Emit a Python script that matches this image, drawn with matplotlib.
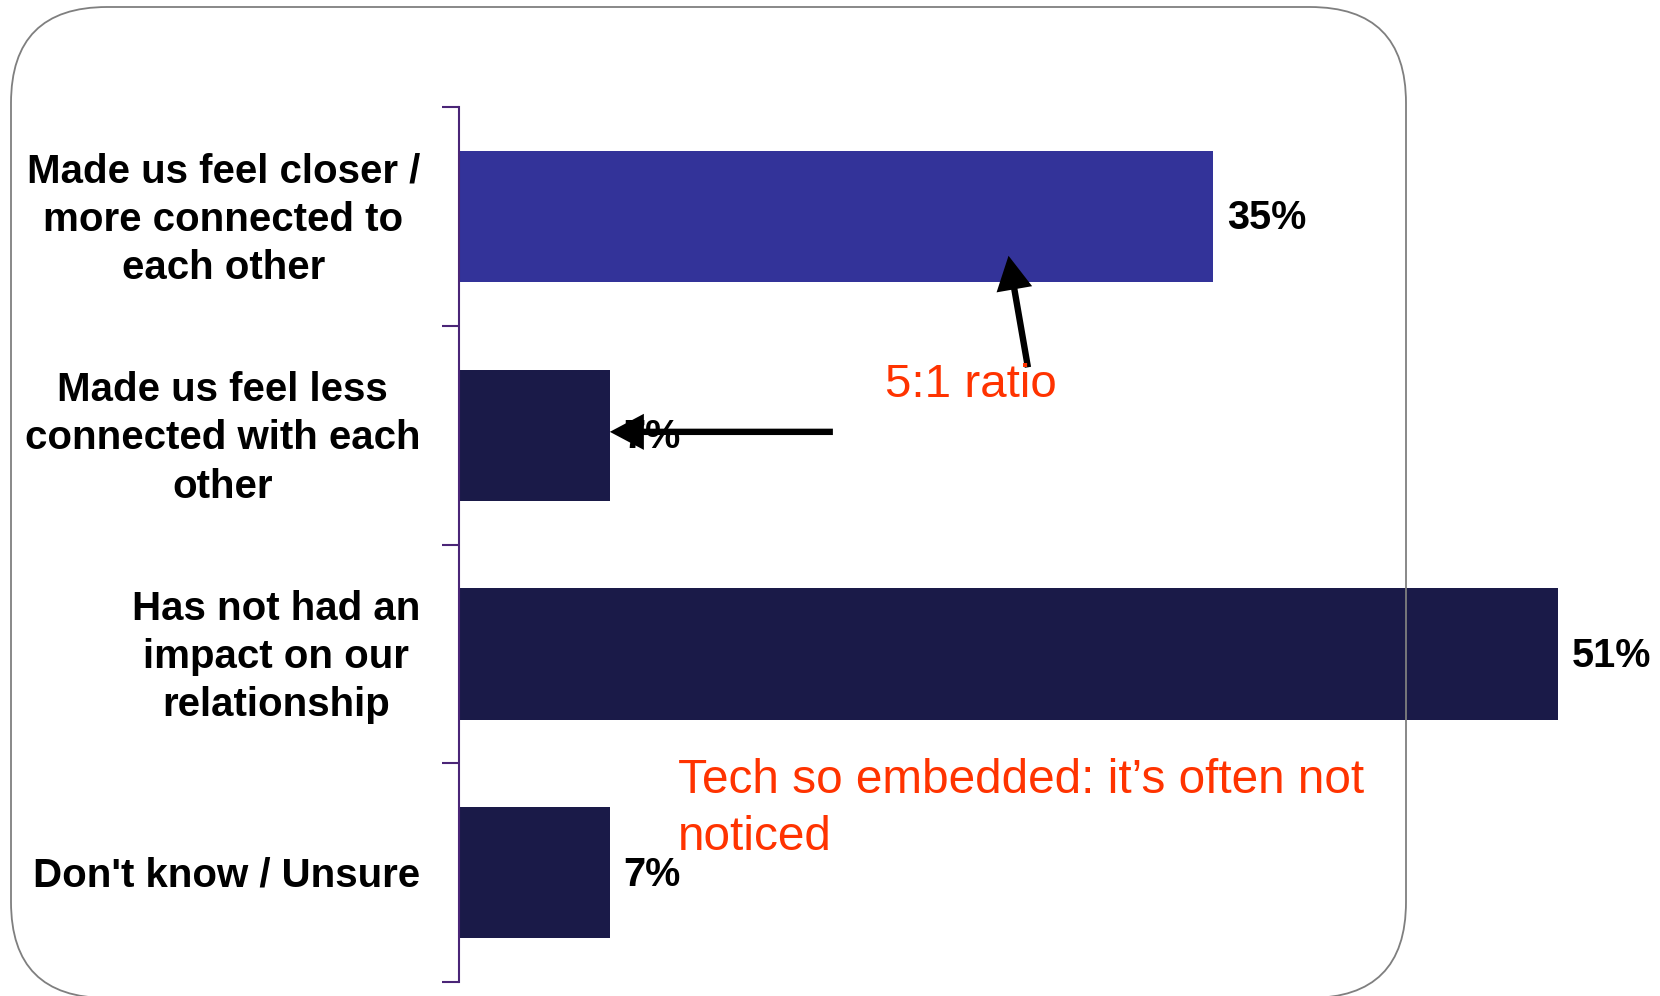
import numpy as np
import matplotlib
matplotlib.use('Agg')
import matplotlib.pyplot as plt
from matplotlib.patches import FancyBboxPatch

plt.rcParams['font.family'] = ['Liberation Sans', 'DejaVu Sans']

categories = [
    'Made us feel closer /\nmore connected to\neach other',
    'Made us feel less\nconnected with each\nother',
    'Has not had an\nimpact on our\nrelationship',
    "Don't know / Unsure",
]
values = [35, 7, 51, 7]
bar_colors = ['#333399', '#1a1a48', '#1a1a48', '#1a1a48']

purple = '#4a2577'
red = '#ff3300'

fig = plt.figure(figsize=(16.6, 9.96), dpi=100)
ax = fig.add_axes([0.2765, 0.01406, 0.7235, 0.8785])

y = np.arange(len(categories))
ax.barh(y, values, height=0.6, color=bar_colors, zorder=2)
ax.set_ylim(3.5, -0.5)
ax.set_xlim(0, 55.73)

for side in ['top', 'right', 'bottom']:
    ax.spines[side].set_visible(False)
ax.spines['left'].set_color(purple)
ax.spines['left'].set_linewidth(1.5)
ax.set_xticks([])

# ticks sit on the category boundaries, labels go in between
ax.set_yticks(np.arange(-0.5, len(categories)), labels=[])
ax.tick_params(axis='y', which='major', length=12, width=1.5, color=purple, direction='out')

for yi, cat in zip(y, categories):
    ax.annotate(cat, (0, yi), xycoords=('axes fraction', 'data'),
                xytext=(-28, -2.3), textcoords='offset points',
                ha='right', va='center', multialignment='center',
                fontsize=29, fontweight='bold', linespacing=1.345, annotation_clip=False)

for yi, v in zip(y, values):
    ax.annotate(f'{v}%', (v, yi), xytext=(10, 1.5), textcoords='offset points',
                va='center_baseline', ha='left', fontsize=28.5, fontweight='bold', zorder=3)

arrow_style = dict(arrowstyle='simple,head_length=24.5,head_width=26,tail_width=4.6',
                   mutation_scale=1, fc='black', ec='none', shrinkA=0, shrinkB=0)
ax.annotate('', xy=(values[1], 0.985), xytext=(17.35, 0.985), arrowprops=arrow_style, zorder=4)
ax.annotate('', xy=(25.5, 0.18), xytext=(26.4, 0.69), arrowprops=arrow_style, zorder=4)

ax.text(19.77, 0.826, '5:1 ratio', color=red, fontsize=34.2, va='baseline', zorder=4)
ax.text(10.16, 2.896, 'Tech so embedded: it\u2019s often not\nnoticed', color=red,
        fontsize=34.4, va='baseline', linespacing=1.33, zorder=4)

# rounded frame on top of everything, in pixel units (origin bottom-left)
ov = fig.add_axes([0, 0, 1, 1], zorder=5)
ov.set_xlim(0, 1660)
ov.set_ylim(0, 996)
ov.axis('off')
ov.patch.set_alpha(0)
ov.add_patch(FancyBboxPatch((11, -2), 1395, 991, boxstyle='round,pad=0,rounding_size=96',
                            fill=False, ec='#7f7f7f', lw=1.3, clip_on=False))

fig.savefig('out.png', dpi=100)
